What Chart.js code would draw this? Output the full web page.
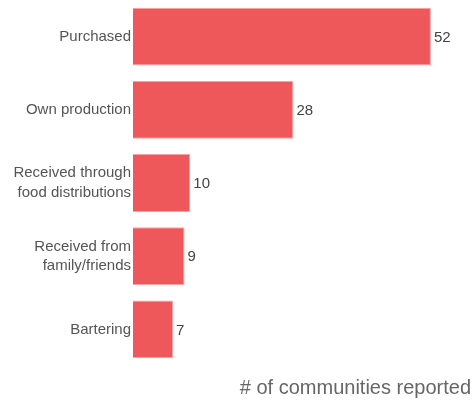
<!DOCTYPE html>
<html>
<head>
<meta charset="utf-8">
<script src="https://cdn.jsdelivr.net/npm/chart.js@4/dist/chart.umd.min.js"></script>
<style>
  html, body { margin: 0; padding: 0; background: #fff; }
  #wrap { width: 475px; height: 402px; }
</style>
</head>
<body>
<div id="wrap"><canvas id="sourcesChart"></canvas></div>
<script>
const categories = [
    'Purchased',
    'Own production',
    ['Received through', 'food distributions'],
    ['Received from', 'family/friends'],
    'Bartering'
];
const communities = [52, 28, 10, 9, 7];
const axisTitle = '# of communities reported';

// draws the value just past the end of each bar
const barValues = {
    id: 'barValues',
    afterDatasetsDraw(chart) {
        const ctx = chart.ctx;
        const meta = chart.getDatasetMeta(0);
        ctx.save();
        ctx.font = '15px "Liberation Sans", Arial, sans-serif';
        ctx.fillStyle = '#444';
        ctx.textAlign = 'left';
        ctx.textBaseline = 'middle';
        meta.data.forEach((bar, i) => {
            ctx.fillText(communities[i], bar.x + 3, bar.y + 1);
        });
        ctx.restore();
    }
};

const ctx = document.getElementById('sourcesChart').getContext('2d');
const sourcesChart = new Chart(ctx, {
    type: 'bar',
    data: {
        labels: categories,
        datasets: [{
            label: axisTitle,
            data: communities,
            backgroundColor: '#ee585a',
            borderColor: '#f8a3a3',
            borderWidth: 1,
            categoryPercentage: 1,
            barPercentage: 0.79
        }]
    },
    plugins: [barValues],
    options: {
        indexAxis: 'y',
        responsive: true,
        maintainAspectRatio: false,
        animation: false,
        layout: { padding: { top: 0, right: 4, bottom: 0, left: 0 } },
        plugins: {
            legend: { display: false },
            tooltip: { enabled: false }
        },
        scales: {
            x: {
                min: 0,
                max: 59,
                grid: { display: false, drawTicks: false },
                border: { display: false },
                ticks: { display: false },
                title: {
                    display: true,
                    text: axisTitle,
                    align: 'end',
                    color: '#666',
                    font: { family: '"Liberation Sans", Arial, sans-serif', size: 20 },
                    padding: { top: 4, bottom: 1.5 }
                },
                afterFit(scale) { scale.height = 36; }
            },
            y: {
                grid: { display: false, drawTicks: false },
                border: { display: false },
                ticks: {
                    color: '#555',
                    padding: 2,
                    font: { family: '"Liberation Sans", Arial, sans-serif', size: 15, lineHeight: 1.3 }
                },
                afterFit(scale) {
                    scale.width = 133;
                    scale.paddingTop = 0;
                    scale.paddingBottom = 0;
                }
            }
        }
    }
});
</script>
</body>
</html>
